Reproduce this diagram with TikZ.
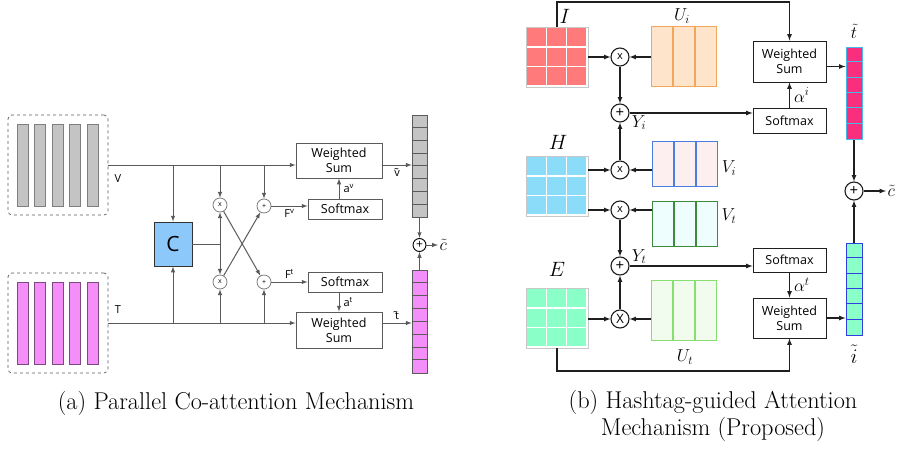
\documentclass[tikz,border=0pt]{standalone}
\usepackage{fontspec}
\setsansfont{Open Sans}
\usepackage{amsmath}
\usetikzlibrary{arrows,positioning}

\definecolor{lline}{HTML}{5A5A5A}
\definecolor{vgray}{HTML}{C4C4C4}
\definecolor{vedge}{HTML}{7F7F7F}
\definecolor{tpink}{HTML}{F48EF8}
\definecolor{tedge}{HTML}{7A4A80}
\definecolor{cblue}{HTML}{8CC8FA}
\definecolor{imred}{HTML}{FF7B7B}
\definecolor{hblue}{HTML}{8ADCF8}
\definecolor{emint}{HTML}{8AFFC8}
\definecolor{matedge}{HTML}{C8C8C8}
\definecolor{uifill}{HTML}{FDE4CA}
\definecolor{uiedge}{HTML}{F2A65A}
\definecolor{vifill}{HTML}{FDEFEF}
\definecolor{viedge}{HTML}{4A7FE0}
\definecolor{vtfill}{HTML}{EEFDFD}
\definecolor{vtedge}{HTML}{3F8A3F}
\definecolor{utfill}{HTML}{F1FCEE}
\definecolor{utedge}{HTML}{88DF70}
\definecolor{tvfill}{HTML}{FB2E7E}
\definecolor{tvedge}{HTML}{48B8E8}
\definecolor{ivedge}{HTML}{3040E0}

\begin{document}
\begin{tikzpicture}[x=1pt,y=-1pt,->,>=latex,
            inbox/.style={draw=lline,dashed,rounded corners=4pt,line width=0.7pt,minimum width=100pt,minimum height=100pt,inner sep=0pt},
            vbar/.style={draw=#1,line width=0.8pt,minimum width=11pt,minimum height=82pt,inner sep=0pt},
            lbl/.style={font=\sffamily\fontsize{11}{13}\selectfont,inner sep=1pt},
            mlbl/.style={font=\fontsize{17.28}{19}\selectfont,inner sep=1pt},
            biglbl/.style={font=\fontsize{20.74}{23}\selectfont,inner sep=1pt},
            cbox/.style={draw=black!80,fill=cblue,line width=0.9pt,minimum width=38pt,minimum height=44pt,font=\sffamily\fontsize{21}{24}\selectfont},
            opl/.style={circle,draw=black!55,line width=0.7pt,fill=white,minimum size=14pt,inner sep=0pt,font=\sffamily\fontsize{7}{8}\selectfont},
            wsbox/.style={draw,line width=0.9pt,align=center,inner sep=0pt,font=\sffamily\fontsize{12.5}{15}\selectfont},
            smbox/.style={wsbox,minimum width=74pt,minimum height=20pt},
            vecbar/.style={draw=lline,line width=0.7pt,minimum width=15pt,inner sep=0pt},
            sumop/.style={circle,draw=black,line width=0.9pt,minimum size=13pt,inner sep=0pt,font=\sffamily\fontsize{12}{12}\selectfont},
            mat/.style={draw=matedge,fill=white,line width=0.6pt,minimum width=62pt,minimum height=60pt,inner sep=0pt},
            grp/.style={minimum width=65pt,inner sep=0pt},
            mulop/.style={circle,draw,line width=1.1pt,fill=white,minimum size=18pt,inner sep=0pt,font=\sffamily\fontsize{11}{12}\selectfont},
            caption/.style={font=\rmfamily\fontsize{24.3}{27}\selectfont,align=center,inner sep=0pt}]
            \useasboundingbox (0,0) rectangle (900,450);

            % (a) parallel co-attention
            \begin{scope}[draw=lline,line width=1pt]
            \node[inbox] (Vin) at (58,165) {};
            \node[inbox] (Tin) at (58,323) {};
            \foreach \i in {0,...,4} {
                \node[vbar=vedge,fill=vgray] at ({22.5+17.6*\i},165) {};
                \node[vbar=tedge,fill=tpink] at ({22.5+17.6*\i},323) {};
            }
            \node[lbl] (Vlab) at (118,179) {V};
            \node[lbl] (Tlab) at (118,310) {T};

            \node[cbox] (Coatt) at (173,244) {C};
            \node[opl] (MulV) at (220,205) {x};
            \node[opl] (AddV) at (264,206) {+};
            \node[opl] (MulT) at (220,282) {x};
            \node[opl] (AddT) at (264,282) {+};

            \node[wsbox,minimum width=86pt,minimum height=35pt] (WsumV) at (339,160.5) {Weighted\\Sum};
            \node[smbox] (SoftV) at (345,209) {Softmax};
            \node[smbox] (SoftT) at (345,282) {Softmax};
            \node[wsbox,minimum width=86pt,minimum height=36pt] (WsumT) at (339,330) {Weighted\\Sum};

            \node[vecbar,fill=vgray,minimum height=102pt] (VecV) at (419.5,166) {};
            \node[vecbar,fill=tpink,minimum height=103pt] (VecT) at (419.5,321.5) {};
            \foreach \k in {1,...,7} {
                \draw[-,line width=0.6pt] ([shift={(0,12.75*\k)}]VecV.north west) -- ++(15,0);
                \draw[-,line width=0.6pt] ([shift={(0,12.875*\k)}]VecT.north west) -- ++(15,0);
            }
            \node[sumop] (JoinA) at (419.5,245) {+};
            \node[mlbl,anchor=west] (CoutA) at (438,245) {$\tilde{c}$};

            \draw (Vin.east) -- (Vin.east -| WsumV.west);
            \draw (Coatt.north |- Vin.east) -- (Coatt.north);
            \draw (MulV |- Vin.east) -- (MulV);
            \draw (AddV |- Vin.east) -- (AddV);
            \draw (Tin.east) -- (Tin.east -| WsumT.west);
            \draw (Coatt.south |- Tin.east) -- (Coatt.south);
            \draw (MulT |- Tin.east) -- (MulT);
            \draw (AddT |- Tin.east) -- (AddT);
            \draw[-] (Coatt.east) -- (Coatt.east -| MulV) coordinate (Cj);
            \draw (Cj) -- (MulV);
            \draw (Cj) -- (MulT);
            \draw (MulV) -- (AddT);
            \draw (MulT) -- (AddV);
            \draw (AddV) -- (AddV -| SoftV.west) node[lbl,midway,below=2pt] {F\textsuperscript{v}};
            \draw (AddT) -- (AddT -| SoftT.west) node[lbl,midway,above=2pt] {F\textsuperscript{t}};
            \draw (WsumV.south |- SoftV.north) -- (WsumV.south) node[lbl,midway,right=3pt] {a\textsuperscript{v}};
            \draw (SoftT.south -| WsumT.north) -- (WsumT.north) node[lbl,midway,right=3pt] {a\textsuperscript{t}};
            \draw (Vin.east -| WsumV.east) -- (Vin.east -| VecV.west) node[lbl,midway,below=2pt] {\~{v}};
            \draw (Tin.east -| WsumT.east) -- (Tin.east -| VecT.west) node[lbl,midway,above=2pt] {\~{t}};
            \draw (VecV.south) -- (JoinA);
            \draw (VecT.north) -- (JoinA);
            \draw (JoinA) -- (CoutA);
            \end{scope}

            % (b) hashtag-guided attention
            \begin{scope}[draw=black!88,line width=1.2pt]
            \node[mat] (Imat) at (557,57) {};
            \node[mat] (Hmat) at (557,186) {};
            \node[mat] (Emat) at (557,318) {};
            \foreach \m/\c in {Imat/imred,Hmat/hblue,Emat/emint}
                \foreach \i in {0,1,2}
                    \foreach \j in {0,1,2}
                        \fill[\c] ([shift={(1.5+20*\i,1.5+19.5*\j)}]\m.north west) rectangle ++(18.5,18);
            \node[biglbl] (Ilab) at (565,16) {$I$};
            \node[biglbl] (Hlab) at (558,142) {$H$};
            \node[biglbl] (Elab) at (557,269) {$E$};

            \node[grp,minimum height=60pt] (Ui) at (684.5,57) {};
            \node[grp,minimum height=45pt] (Vi) at (685.5,164.5) {};
            \node[grp,minimum height=45pt] (Vt) at (685.5,224.5) {};
            \node[grp,minimum height=60pt] (Ut) at (684.5,311) {};
            \foreach \g/\f/\e/\h in {Ui/uifill/uiedge/60,Vi/vifill/viedge/45,Vt/vtfill/vtedge/45,Ut/utfill/utedge/60}
                \foreach \i in {0,1,2}
                    \draw[-,draw=\e,fill=\f,line width=1pt] ([shift={(22*\i,0)}]\g.north west) rectangle ++(21,\h);
            \node[mlbl] (Uilab) at (682,16) {$U_i$};
            \node[mlbl] (Vilab) at (729,168) {$V_i$};
            \node[mlbl] (Vtlab) at (729,216) {$V_t$};
            \node[mlbl] (Utlab) at (685,357) {$U_t$};

            \node[mulop] (MulA) at (620,57) {x};
            \node[mulop] (MulB) at (620,170) {x};
            \node[mulop] (MulC) at (620,210) {x};
            \node[mulop,font=\sffamily\fontsize{13}{14}\selectfont] (MulD) at (620,319) {X};
            \node[mulop,font=\sffamily\fontsize{15}{15}\selectfont] (AddA) at (620,113) {+};
            \node[mulop,font=\sffamily\fontsize{15}{15}\selectfont] (AddB) at (620,266) {+};

            \node[wsbox,minimum width=73pt,minimum height=41pt] (WsI) at (789.5,61.5) {Weighted\\Sum};
            \node[wsbox,minimum width=73pt,minimum height=25pt] (SmI) at (789.5,120.5) {Softmax};
            \node[wsbox,minimum width=73pt,minimum height=24pt] (SmT) at (789.5,260) {Softmax};
            \node[wsbox,minimum width=73pt,minimum height=40pt] (WsT) at (789.5,318) {Weighted\\Sum};

            \node[draw=tvedge,fill=tvfill,line width=1pt,minimum width=16pt,minimum height=92pt,inner sep=0pt] (VecTi) at (854,93) {};
            \node[draw=ivedge,fill=emint,line width=1pt,minimum width=16pt,minimum height=92pt,inner sep=0pt] (VecIt) at (854,289) {};
            \foreach \k in {1,...,5} {
                \draw[-,draw=tvedge,line width=1pt] ([shift={(0,15.33*\k)}]VecTi.north west) -- ++(16,0);
                \draw[-,draw=ivedge,line width=1pt] ([shift={(0,15.33*\k)}]VecIt.north west) -- ++(16,0);
            }
            \node[mlbl] (Ttil) at (854,31) {$\tilde{t}$};
            \node[biglbl] (Itil) at (854,354) {$\tilde{i}$};
            \node[mulop,font=\sffamily\fontsize{15}{15}\selectfont] (JoinB) at (854,191) {+};
            \node[mlbl,anchor=west] (CoutB) at (886,191) {$\tilde{c}$};

            \coordinate (Itop) at (557,2);
            \coordinate (Ebot) at (557,371);
            \draw (Imat.east) -- (MulA);
            \draw (Ui.west) -- (MulA);
            \draw (MulA) -- (AddA);
            \draw (MulB) -- (AddA);
            \draw (MulB -| Hmat.east) -- (MulB);
            \draw (MulB -| Vi.west) -- (MulB);
            \draw (MulC -| Hmat.east) -- (MulC);
            \draw (MulC -| Vt.west) -- (MulC);
            \draw (MulC) -- (AddB);
            \draw (MulD) -- (AddB);
            \draw (MulD -| Emat.east) -- (MulD);
            \draw (MulD -| Ut.west) -- (MulD);
            \draw (AddA) -- (AddA -| SmI.west) node[mlbl,pos=0,below right=1pt] {$Y_i$};
            \draw (AddB) -- (AddB -| SmT.west) node[mlbl,pos=0,above right=1pt] {$Y_t$};
            \draw (SmI.north) -- (WsI.south) node[mlbl,midway,right=3pt] {$\alpha^i$};
            \draw (SmT.south) -- (WsT.north) node[mlbl,midway,right=3pt] {$\alpha^t$};
            \draw (Imat.north) -- (Itop) -| (WsI.north);
            \draw (Emat.south) -- (Ebot) -| (WsT.south);
            \draw ([yshift=-5pt]WsI.east) -- ([yshift=-5pt]WsI.east -| VecTi.west);
            \draw (WsT.east) -- (WsT.east -| VecIt.west);
            \draw (VecTi.south) -- (JoinB);
            \draw (VecIt.north) -- (JoinB);
            \draw (JoinB) -- (CoutB);
            \end{scope}

            \node[caption] (CapA) at (236,403) {(a) Parallel Co-attention Mechanism};
            \node[caption] (CapB) at (713,416) {(b) Hashtag-guided Attention\\Mechanism (Proposed)};
        \end{tikzpicture}
\end{document}
